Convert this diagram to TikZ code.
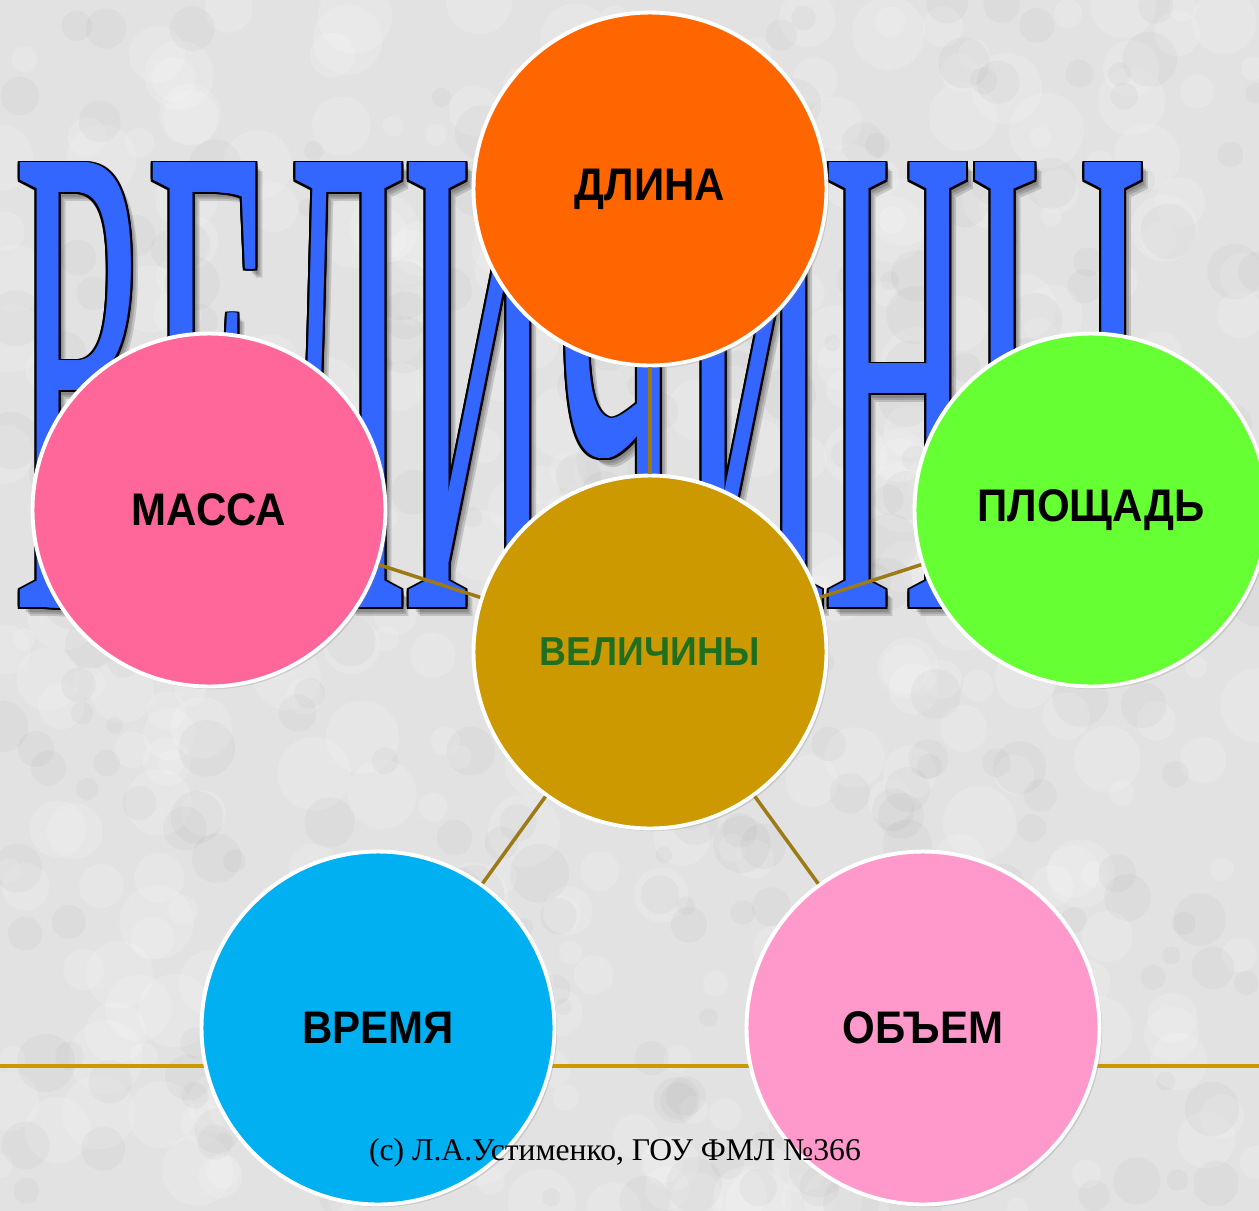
\documentclass[tikz,border=0pt]{standalone}
\usepackage{fontspec}
\usepackage{graphicx}
\setmainfont{Liberation Serif}
\newfontfamily\labelfont{Liberation Sans}
\usetikzlibrary{shadows,calc}
\definecolor{bgGray}{HTML}{E2E2E2}
\definecolor{titleBlue}{HTML}{3366FF}
\definecolor{cOrange}{HTML}{FF6600}
\definecolor{cRose}{HTML}{FF6699}
\definecolor{cGreen}{HTML}{66FF33}
\definecolor{cGold}{HTML}{CC9900}
\definecolor{cSky}{HTML}{00B0F0}
\definecolor{cPink}{HTML}{FF99CC}
\definecolor{wordGreen}{HTML}{1F6F1F}
\definecolor{linkGold}{HTML}{9C7A16}
\newcommand{\bigword}{\resizebox{22.6cm}{8.9cm}{ВЕЛИЧИНЫ}}
\newcommand{\lab}[1]{\scalebox{0.92}[1]{#1}}
\tikzset{
  bubble/.style={circle, draw=white, line width=2.2pt, minimum size=7.06cm, inner sep=0pt,
    drop shadow={opacity=0.25, shadow xshift=1.5pt, shadow yshift=-1.5pt},
    font=\labelfont\bfseries\fontsize{26}{30}\selectfont},
  link/.style={linkGold, line width=2pt},
  titleword/.style={anchor=north west, inner sep=0pt, outer sep=0pt}
}
\begin{document}
\begin{tikzpicture}[x=0.02cm, y=-0.02cm]
\useasboundingbox (0,0) rectangle (1259,1211);
\clip (0,0) rectangle (1259,1211);
%draw background
\fill[bgGray] (0,0) rectangle (1259,1211);
\pgfmathsetseed{7}
\foreach \i in {1,...,420}{
  \pgfmathsetmacro\bx{rnd*1259}
  \pgfmathsetmacro\by{rnd*1211}
  \pgfmathsetmacro\br{10+rnd*28}
  \fill[white, opacity=0.14] (\bx,\by) circle[radius=\br];
}
\foreach \i in {1,...,300}{
  \pgfmathsetmacro\bx{rnd*1259}
  \pgfmathsetmacro\by{rnd*1211}
  \pgfmathsetmacro\br{8+rnd*22}
  \fill[gray, opacity=0.06] (\bx,\by) circle[radius=\br];
}
%draw bottom rule
\draw[cGold, line width=2.3pt] (0,1066) -- (1259,1066);
%draw title: shadow, outline, fill
\foreach \s in {5,7,9}
  \node[titleword, text=black, opacity=0.15] (shadow\s) at (16+\s,163+\s) {\bigword};
\foreach \dx in {-4,-2,0,2,4}
  \foreach \dy in {-1.8,0,1.8}
    \node[titleword, text=black] at (16+\dx,163+\dy) {\bigword};
\foreach \dx in {-2,-1,0,1,2}
  \node[titleword, text=titleBlue] at (16+\dx,163) {\bigword};
%draw circles
\node[bubble, fill=cGold, text=wordGreen, font=\labelfont\bfseries\fontsize{23}{27}\selectfont] (cen) at (650,652) {\lab{ВЕЛИЧИНЫ}};
\node[bubble, fill=cOrange] (dlina) at (650,189) {\lab{ДЛИНА}};
\node[bubble, fill=cRose] (massa) at (209,510) {\lab{МАССА}};
\node[bubble, fill=cGreen] (ploshad) at (1091,510) {\lab{ПЛОЩАДЬ}};
\node[bubble, fill=cSky] (vremya) at (378,1028) {\lab{ВРЕМЯ}};
\node[bubble, fill=cPink] (obem) at (923,1028) {\lab{ОБЪЕМ}};
%draw links
\draw[link] (cen) -- (dlina);
\draw[link] (cen) -- (massa);
\draw[link] (cen) -- (ploshad);
\draw[link] (cen) -- (vremya);
\draw[link] (cen) -- (obem);
%draw copyright
\node[font=\fontsize{18}{21}\selectfont, inner sep=0pt] (copy) at (615,1153) {(c) Л.А.Устименко, ГОУ ФМЛ №366};
\end{tikzpicture}
\end{document}
